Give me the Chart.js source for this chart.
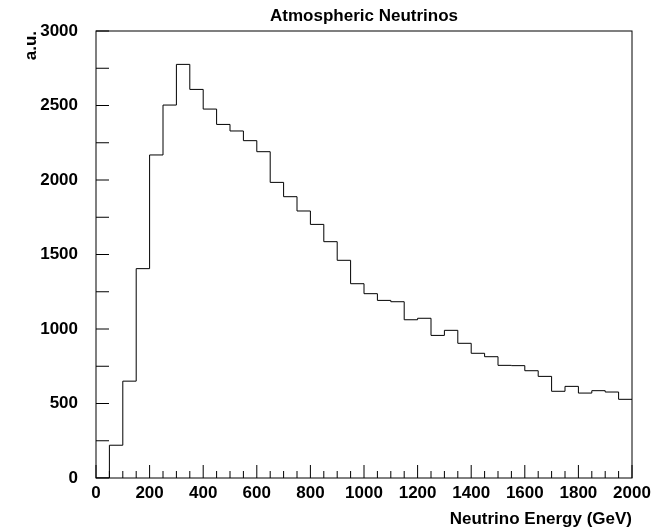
<!DOCTYPE html>
<html>
<head>
<meta charset="utf-8">
<script src="https://cdn.jsdelivr.net/npm/chart.js@4.4.1/dist/chart.umd.min.js"></script>
<style>
  html, body { margin: 0; padding: 0; background: #fff; }
  #wrap { width: 660px; height: 530px; }
</style>
</head>
<body>
<div id="wrap"><canvas id="histo" width="660" height="530"></canvas></div>
<script>
// textos
const chartTitle = 'Atmospheric Neutrinos';
const xAxisTitle = 'Neutrino Energy (GeV)';
const yAxisTitle = 'a.u.';

// bordas dos bins (GeV), 40 bins de 50 GeV
const binEdges = [
  0, 50, 100, 150, 200, 250, 300, 350, 400, 450,
  500, 550, 600, 650, 700, 750, 800, 850, 900, 950,
  1000, 1050, 1100, 1150, 1200, 1250, 1300, 1350, 1400, 1450,
  1500, 1550, 1600, 1650, 1700, 1750, 1800, 1850, 1900, 1950, 2000
];

// conteudo de cada bin
const binCounts = [
  0, 220, 650, 1405, 2168, 2503, 2776, 2608, 2476, 2373,
  2329, 2264, 2190, 1984, 1888, 1792, 1702, 1586, 1461, 1304,
  1237, 1192, 1183, 1062, 1072, 957, 991, 904, 837, 814,
  756, 754, 720, 682, 582, 615, 570, 586, 577, 528
];

// marcas dos eixos
const xTickValues = [0, 200, 400, 600, 800, 1000, 1200, 1400, 1600, 1800, 2000];
const yTickValues = [0, 500, 1000, 1500, 2000, 2500, 3000];
const xMinorStep = 50;
const yMinorStep = 250;

const labelFont = { family: '"Liberation Sans", Arial, Helvetica, sans-serif', weight: 'bold', size: 17 };

// pontos do histograma: borda esquerda de cada bin + borda final
const histoPoints = binCounts.map((c, i) => ({ x: binEdges[i], y: c }));
histoPoints.push({ x: binEdges[binEdges.length - 1], y: binCounts[binCounts.length - 1] });

// moldura, ticks para dentro (estilo ROOT) e titulo
const rootFrame = {
  id: 'rootFrame',
  afterDatasetsDraw(chart) {
    const { ctx, chartArea: a, scales: { x, y } } = chart;
    ctx.save();
    ctx.strokeStyle = '#000';
    ctx.lineWidth = 1;
    ctx.beginPath();
    for (let v = x.min; v <= x.max; v += xMinorStep) {
      const px = x.getPixelForValue(v);
      const len = xTickValues.includes(v) ? 13 : 7;
      ctx.moveTo(px, a.bottom);
      ctx.lineTo(px, a.bottom - len);
    }
    for (let v = y.min; v <= y.max; v += yMinorStep) {
      const py = y.getPixelForValue(v);
      ctx.moveTo(a.left, py);
      ctx.lineTo(a.left + 13, py);
    }
    ctx.stroke();
    ctx.strokeRect(a.left, a.top, a.right - a.left, a.bottom - a.top);

    ctx.fillStyle = '#000';
    ctx.font = 'bold 17px "Liberation Sans", Arial, Helvetica, sans-serif';
    ctx.textAlign = 'center';
    ctx.textBaseline = 'middle';
    ctx.fillText(chartTitle, (a.left + a.right) / 2, 16);
    ctx.restore();
  }
};

new Chart(document.getElementById('histo'), {
  type: 'line',
  data: {
    datasets: [{
      data: histoPoints,
      stepped: 'before',
      borderColor: '#000',
      borderWidth: 1,
      pointRadius: 0,
      fill: false,
    }],
  },
  options: {
    responsive: false,
    animation: false,
    layout: { padding: { top: 31, right: 28, bottom: 0, left: 0 } },
    plugins: {
      legend: { display: false },
      title: { display: false },
      tooltip: { enabled: false },
    },
    scales: {
      x: {
        type: 'linear',
        position: 'bottom',
        min: 0,
        max: 2000,
        afterBuildTicks: (scale) => { scale.ticks = xTickValues.map((v) => ({ value: v })); },
        afterFit: (scale) => { scale.height = 52; },
        grid: { display: false, drawTicks: false },
        border: { display: false },
        ticks: {
          color: '#000',
          font: labelFont,
          padding: 5,
          maxRotation: 0,
          autoSkip: false,
          callback: (v) => String(v),
        },
        title: {
          display: true,
          text: xAxisTitle,
          align: 'end',
          color: '#000',
          font: labelFont,
          padding: { top: 0, bottom: 0 },
        },
      },
      y: {
        type: 'linear',
        position: 'left',
        min: 0,
        max: 3000,
        afterBuildTicks: (scale) => { scale.ticks = yTickValues.map((v) => ({ value: v })); },
        afterFit: (scale) => { scale.width = 96; },
        grid: { display: false, drawTicks: false },
        border: { display: false },
        ticks: {
          color: '#000',
          font: labelFont,
          padding: 18,
          autoSkip: false,
          callback: (v) => String(v),
        },
        title: {
          display: true,
          text: yAxisTitle,
          align: 'end',
          color: '#000',
          font: labelFont,
          padding: { top: 21.5, bottom: 0 },
        },
      },
    },
  },
  plugins: [rootFrame],
});
</script>
</body>
</html>
